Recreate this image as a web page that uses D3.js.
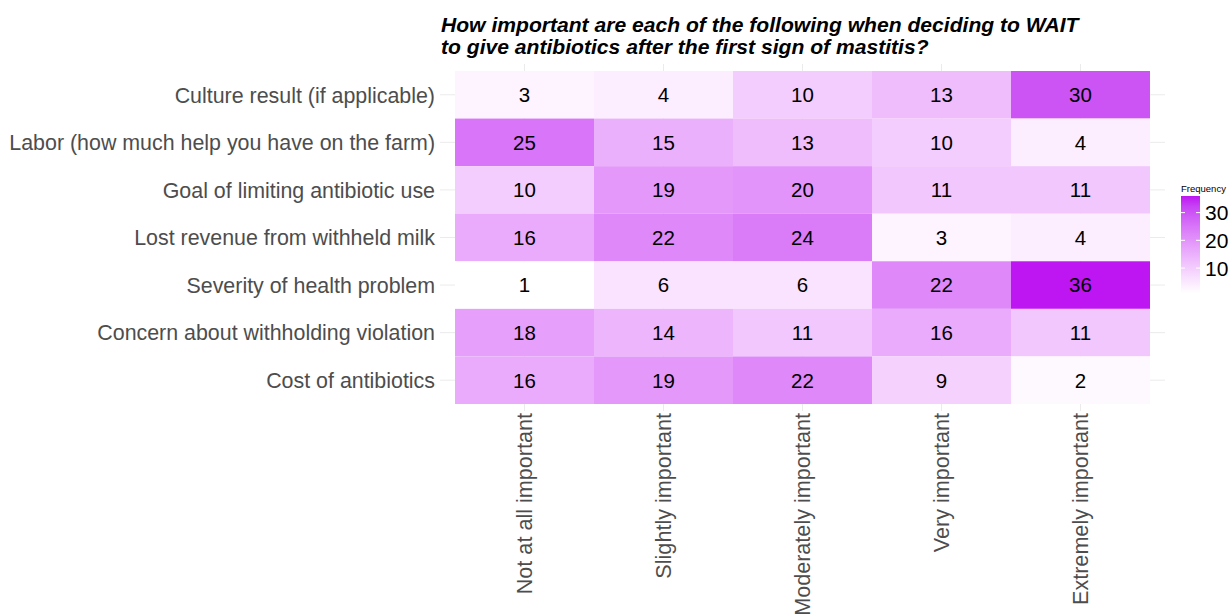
<!DOCTYPE html>
<html><head><meta charset="utf-8">
<script src="https://cdn.jsdelivr.net/npm/d3@7"></script>
<style>body{margin:0;background:#fff}svg{display:block}</style>
</head><body>
<script>
const rows = ["Culture result (if applicable)","Labor (how much help you have on the farm)","Goal of limiting antibiotic use","Lost revenue from withheld milk","Severity of health problem","Concern about withholding violation","Cost of antibiotics"];
const cols = ["Not at all important","Slightly important","Moderately important","Very important","Extremely important"];
const values = [
  [3,4,10,13,30],
  [25,15,13,10,4],
  [10,19,20,11,11],
  [16,22,24,3,4],
  [1,6,6,22,36],
  [18,14,11,16,11],
  [16,19,22,9,2]
];
const legendTicks = [10,20,30];
const titleLines = ["How important are each of the following when deciding to WAIT","to give antibiotics after the first sign of mastitis?"];

const W=1229,H=614;
const FONT="Liberation Sans, Arial, sans-serif";
const svg=d3.select("body").append("svg").attr("width",W).attr("height",H);
const x0=455,x1=1150,y0=71,y1=404;
const x=d3.scaleBand().domain(cols).range([x0,x1]);
const y=d3.scaleBand().domain(rows).range([y0,y1]);
const all=values.flat();
const color=d3.scaleLinear().domain([d3.min(all),d3.max(all)]).range(["#FFFFFF","#BD16F2"]).interpolate(d3.interpolateLab);

// gridlines
const g=svg.append("g");
cols.forEach(c=>g.append("line").attr("x1",x(c)+x.bandwidth()/2).attr("x2",x(c)+x.bandwidth()/2).attr("y1",y0-7).attr("y2",y1+7).attr("stroke","#EBEBEB").attr("stroke-width",1));
rows.forEach(r=>g.append("line").attr("x1",x0-15).attr("x2",x1+15).attr("y1",y(r)+y.bandwidth()/2).attr("y2",y(r)+y.bandwidth()/2).attr("stroke","#EBEBEB").attr("stroke-width",1));

const cells=[];
rows.forEach((r,i)=>cols.forEach((c,j)=>cells.push({r,c,v:values[i][j]})));
svg.append("g").selectAll("rect").data(cells).join("rect")
  .attr("x",d=>x(d.c)).attr("y",d=>y(d.r)).attr("width",x.bandwidth()).attr("height",y.bandwidth())
  .attr("fill",d=>color(d.v));
svg.append("g").selectAll("text").data(cells).join("text")
  .attr("x",d=>x(d.c)+x.bandwidth()/2).attr("y",d=>y(d.r)+y.bandwidth()/2).attr("dy","0.36em")
  .attr("text-anchor","middle").attr("font-family",FONT).attr("font-size",20.5).attr("fill","#000")
  .text(d=>d.v);

// y axis labels
const ya=svg.append("g").attr("transform",`translate(${x0-20},0)`).call(d3.axisLeft(y).tickSize(0).tickPadding(0));
ya.select(".domain").remove();
ya.selectAll("text").attr("font-family",FONT).attr("font-size",21.4).attr("fill","#4D4D4D").attr("dy","0.36em");

// x axis labels
const xa=svg.append("g").attr("transform",`translate(0,${y1+9})`).call(d3.axisBottom(x).tickSize(0).tickPadding(0));
xa.select(".domain").remove();
xa.selectAll("text").attr("font-family",FONT).attr("font-size",21.6).attr("fill","#4D4D4D")
  .attr("transform","rotate(-90)").attr("text-anchor","end").attr("x",0).attr("y",0).attr("dx",0).attr("dy","0.36em");

// title
svg.append("text").attr("x",441).attr("y",32).attr("font-family",FONT).attr("font-size",21.1)
  .attr("font-weight","bold").attr("font-style","italic").attr("fill","#000")
  .selectAll("tspan").data(titleLines).join("tspan").attr("x",441).attr("dy",(d,i)=>i?22:0).text(d=>d);

// legend
const lx=1181,lw=19;
const ls=d3.scaleLinear().domain([d3.min(all),d3.max(all)]).range([293,196]);
const defs=svg.append("defs");
const grad=defs.append("linearGradient").attr("id","lg").attr("x1",0).attr("x2",0).attr("y1",1).attr("y2",0);
d3.range(0,1.0001,0.1).forEach(t=>grad.append("stop").attr("offset",t).attr("stop-color",color(d3.min(all)+t*(d3.max(all)-d3.min(all)))));
svg.append("rect").attr("x",lx).attr("y",ls.range()[1]).attr("width",lw).attr("height",ls.range()[0]-ls.range()[1]).attr("fill","url(#lg)");
legendTicks.forEach(t=>{
  svg.append("line").attr("x1",lx).attr("x2",lx+4).attr("y1",ls(t)).attr("y2",ls(t)).attr("stroke","#fff");
  svg.append("line").attr("x1",lx+lw-4).attr("x2",lx+lw).attr("y1",ls(t)).attr("y2",ls(t)).attr("stroke","#fff");
  svg.append("text").attr("x",lx+lw+5).attr("y",ls(t)).attr("dy","0.36em").attr("font-family",FONT).attr("font-size",21).attr("fill","#000").text(t);
});
svg.append("text").attr("x",lx).attr("y",192).attr("font-family",FONT).attr("font-size",9.5).attr("fill","#000").text("Frequency");
</script>
</body></html>
